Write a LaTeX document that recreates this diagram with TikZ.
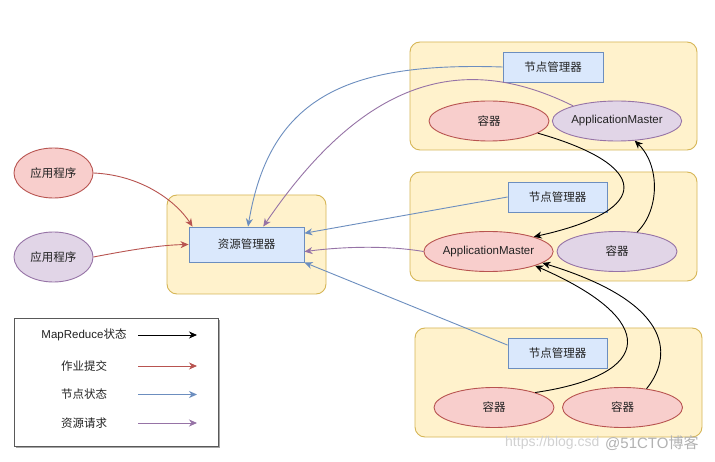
\documentclass[tikz,border=0pt]{standalone}
\usepackage{fontspec}
\setmainfont{Liberation Sans}
\newfontfamily\cjk{Noto Sans CJK SC}
\usetikzlibrary{shapes.geometric,arrows.meta,calc}
\definecolor{redF}{HTML}{F8CECC}
\definecolor{redD}{HTML}{B85450}
\definecolor{purF}{HTML}{E1D5E7}
\definecolor{purD}{HTML}{9673A6}
\definecolor{bluF}{HTML}{DAE8FC}
\definecolor{bluD}{HTML}{6C8EBF}
\definecolor{yelF}{HTML}{FFF2CC}
\definecolor{yelD}{HTML}{D6B656}
\definecolor{txt}{HTML}{222222}
\tikzset{
  base/.style={font=\fontsize{11.5}{13}\selectfont, text=txt, inner sep=0pt, line width=0.9pt},
  group/.style={draw=yelD, fill=yelF, rounded corners=10pt, line width=0.9pt},
  nm/.style={base, rectangle, draw=bluD, fill=bluF},
  redell/.style={base, ellipse, draw=redD, fill=redF, minimum width=120pt, minimum height=40pt},
  purell/.style={base, ellipse, draw=purD, fill=purF, minimum width=120pt, minimum height=40pt},
  tip/.style={-{Stealth[length=8pt,width=7pt,inset=2.5pt]}, line width=0.9pt},
  mrarrow/.style={tip, draw=black},
  jobarrow/.style={tip, draw=redD},
  nodearrow/.style={tip, draw=bluD},
  resarrow/.style={tip, draw=purD},
  legtext/.style={font=\fontsize{11.5}{13}\selectfont, text=txt, inner sep=0pt},
}
\begin{document}
\begin{tikzpicture}[x=1pt,y=-1pt]
\useasboundingbox (0,0) rectangle (715,462);
\fill[white] (0,0) rectangle (715,462);

% group backgrounds
\draw[group] (410,42) rectangle (697,150);
\draw[group] (410,172) rectangle (697,281);
\draw[group] (415,328) rectangle (702,437);
\draw[group] (167,195) rectangle (326,294);

% nodes
\node[nm, minimum width=115pt, minimum height=35pt] (rm) at (246.5,244.5) {\cjk 资源管理器};
\node[nm, minimum width=100pt, minimum height=30pt] (nmTop) at (553,67) {\cjk 节点管理器};
\node[nm, minimum width=99pt, minimum height=30pt] (nmMid) at (557.5,197) {\cjk 节点管理器};
\node[nm, minimum width=99pt, minimum height=30pt] (nmBot) at (557.5,353) {\cjk 节点管理器};

\node[redell] (cTop) at (489,121) {\cjk 容器};
\node[purell] (amTop) at (617,121) {ApplicationMaster};
\node[redell] (amMid) at (488.5,251.5) {ApplicationMaster};
\node[purell] (cMid) at (617,251.5) {\cjk 容器};
\node[redell] (cB1) at (494,407.5) {\cjk 容器};
\node[redell] (cB2) at (622.5,407.5) {\cjk 容器};

\node[redell, minimum width=79pt, minimum height=50pt] (app1) at (53.5,173) {\cjk 应用程序};
\node[purell, minimum width=79pt, minimum height=50pt] (app2) at (53.5,257) {\cjk 应用程序};

% job submission
\draw[jobarrow] (app1.east) .. controls (140,175) and (175,200) .. ($(rm.north west)+(4,0)$);
\draw[jobarrow] (app2.east) .. controls (130,250) and (160,245) .. (rm.west);

% node status
\draw[nodearrow] (nmTop.west) .. controls (350,62) and (270,95) .. (rm.85);
\draw[nodearrow] (nmMid.west) -- (rm.11);
\draw[nodearrow] (nmBot.171) -- (rm.south east);

% resource requests
\draw[resarrow] (amTop.161) .. controls (470,55) and (370,70) .. (rm.47);
\draw[resarrow] (amMid.west) .. controls (385,245) and (340,247) .. (rm.-7);

% MapReduce status
\draw[mrarrow] (cTop.-14) .. controls (650,165) and (655,210) .. (amMid.18);
\draw[mrarrow] (cMid.44) .. controls (660,210) and (660,165) .. (amTop.-48);
\draw[mrarrow] (cB1.20) .. controls (655,375) and (660,320) .. (amMid.-17);
\draw[mrarrow] (cB2.38) .. controls (670,360) and (680,305) .. (amMid.-12);

% legend
\fill[black!35] (16,320) rectangle (220,448);
\draw[draw=black!65, fill=white, line width=0.9pt] (14,318) rectangle (218,446);
\node[legtext] (l1) at (84,335) {MapReduce{\cjk 状态}};
\node[legtext] (l2) at (84,366) {\cjk 作业提交};
\node[legtext] (l3) at (84,394.5) {\cjk 节点状态};
\node[legtext] (l4) at (84,423) {\cjk 资源请求};
\coordinate (a1s) at (138,335); \coordinate (a1e) at (197,335);
\coordinate (a2s) at (138,366); \coordinate (a2e) at (197,366);
\coordinate (a3s) at (138,394.5); \coordinate (a3e) at (197,394.5);
\coordinate (a4s) at (138,423); \coordinate (a4e) at (197,423);
\draw[mrarrow] (a1s) -- (a1e);
\draw[jobarrow] (a2s) -- (a2e);
\draw[nodearrow] (a3s) -- (a3e);
\draw[resarrow] (a4s) -- (a4e);

% watermark
\node[inner sep=0pt, anchor=west, text=black!18, font=\fontsize{14}{16}\selectfont] (wm1) at (505,443) {https://blog.csd};
\node[inner sep=0pt, anchor=west, text=black!30, font=\fontsize{15}{17}\selectfont] (wm2) at (605,443) {@51CTO{\cjk 博客}};
\end{tikzpicture}
\end{document}
